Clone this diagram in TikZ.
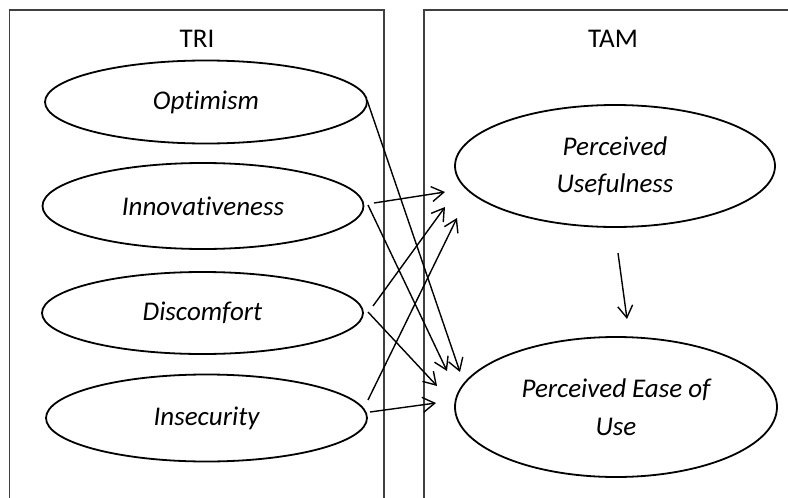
\documentclass[tikz,border=0pt]{standalone}
\usepackage{fontspec}
\setmainfont{Carlito}[Ligatures=NoCommon]
\usetikzlibrary{arrows.meta,shapes.geometric,calc}
\tikzset{
  frameline/.style={draw=black!75, line width=1.1pt},
  construct/.style={ellipse, draw=black, line width=1.8pt, inner sep=0pt, align=center,
    font=\fontsize{27}{37.5}\selectfont\itshape},
  title/.style={font=\fontsize{27}{32}\selectfont, inner sep=0pt},
  link/.style={draw=black, line width=1.4pt, -{Straight Barb[length=12pt,width=15pt,line width=1.4pt]}}
}
\begin{document}
\begin{tikzpicture}[x=1pt,y=-1pt]
\useasboundingbox (0,0) rectangle (788,498);
% frames
\draw[frameline] (9.5,500) -- (9.5,10) -- (384,10) -- (384,500);
\draw[frameline] (424,500) -- (424,10) -- (790,10);
\node[title] (tri) at (197,39) {TRI};
\node[title] (tam) at (613,39) {TAM};
% left constructs
\node[construct, minimum width=322pt, minimum height=83pt] (opt) at (206,102) {Optimism};
\node[construct, minimum width=321pt, minimum height=86pt] (inn) at (203,206) {Innovativeness};
\node[construct, minimum width=321pt, minimum height=82pt] (dis) at (202.5,313) {Discomfort};
\node[construct, minimum width=321pt, minimum height=87pt] (ins) at (206.5,418) {Insecurity};
% right constructs
\node[construct, minimum width=320pt, minimum height=122pt] (pu) at (615,166) {Perceived\\Usefulness};
\node[construct, minimum width=322pt, minimum height=140pt] (peou) at (616,407) {Perceived Ease of\\Use};
% connectors
\draw[link] ($(opt.center)+(161,-2)$) -- ($(peou.center)+(-156,-35)$);
\draw[link] ($(inn.center)+(171,-3)$) -- ($(pu.center)+(-170,26)$);
\draw[link] ($(inn.center)+(165,-1)$) -- ($(peou.center)+(-169,-36)$);
\draw[link] ($(dis.center)+(170.5,-7)$) -- ($(pu.center)+(-170,41)$);
\draw[link] ($(dis.center)+(165.5,-1)$) -- ($(peou.center)+(-179,-21)$);
\draw[link] ($(ins.center)+(161.5,-18)$) -- ($(pu.center)+(-158,52)$);
\draw[link] ($(ins.center)+(163.5,-6)$) -- ($(peou.center)+(-180,-4)$);
\draw[link] ($(pu.center)+(3,87)$) -- ($(peou.center)+(11,-88)$);
\end{tikzpicture}
\end{document}
